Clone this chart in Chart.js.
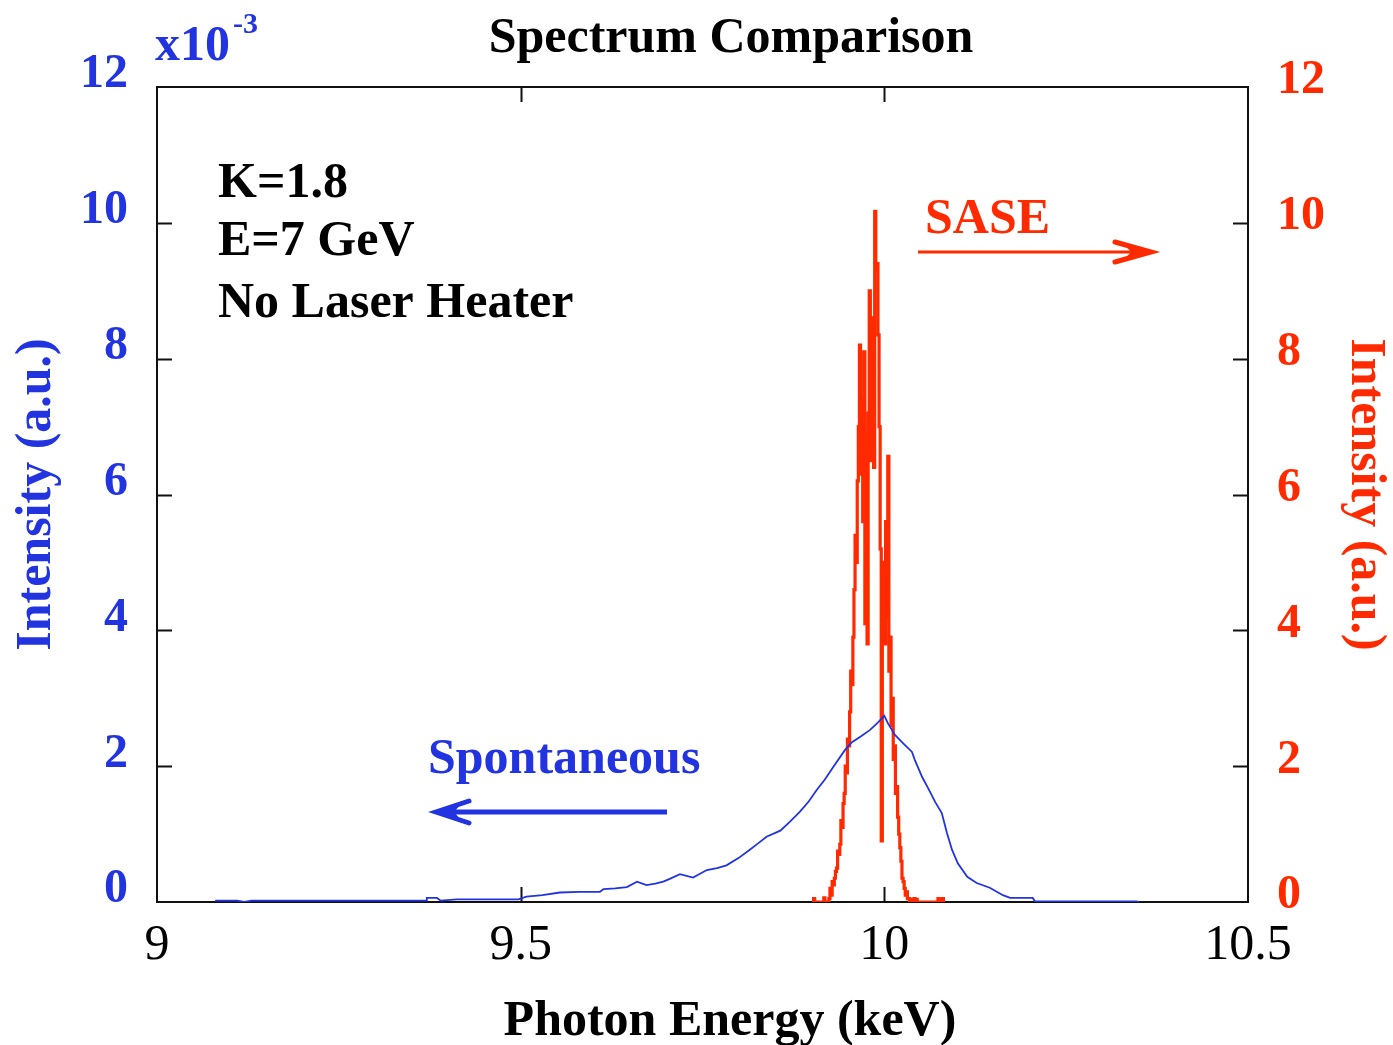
<!DOCTYPE html>
<html>
<head>
<meta charset="utf-8">
<script src="https://cdn.jsdelivr.net/npm/chart.js@4/dist/chart.umd.min.js"></script>
<style>
  html, body { margin: 0; padding: 0; background: #ffffff; }
  #wrap { width: 1393px; height: 1045px; }
</style>
</head>
<body>
<div id="wrap"><canvas id="c" width="1393" height="1045"></canvas></div>
<script>
// ---------- DATA ----------
// Spontaneous spectrum (left axis, units of 1e-3)
const spontEnergy = [9.08, 9.11, 9.12, 9.13, 9.20, 9.30, 9.37, 9.371, 9.385, 9.39, 9.412, 9.45, 9.497, 9.508, 9.53, 9.554, 9.58, 9.609, 9.614, 9.63, 9.646, 9.660, 9.673, 9.685, 9.696, 9.705, 9.719, 9.737, 9.756, 9.770, 9.783, 9.800, 9.815, 9.826, 9.838, 9.857, 9.870, 9.884, 9.896, 9.907, 9.918, 9.930, 9.946, 9.955, 9.968, 9.980, 9.990, 10.000, 10.005, 10.0146, 10.0256, 10.038, 10.042, 10.052, 10.060, 10.070, 10.079, 10.086, 10.093, 10.101, 10.114, 10.127, 10.145, 10.163, 10.173, 10.204, 10.207, 10.346, 10.35];
const spontIntensity = [0.02, 0.02, 0.0, 0.02, 0.02, 0.02, 0.02, 0.06, 0.06, 0.02, 0.04, 0.04, 0.04, 0.08, 0.10, 0.14, 0.15, 0.15, 0.19, 0.20, 0.22, 0.30, 0.25, 0.27, 0.30, 0.34, 0.41, 0.36, 0.47, 0.50, 0.54, 0.65, 0.77, 0.86, 0.96, 1.05, 1.18, 1.33, 1.48, 1.65, 1.80, 1.99, 2.24, 2.35, 2.44, 2.53, 2.63, 2.74, 2.63, 2.46, 2.34, 2.21, 2.09, 1.84, 1.68, 1.47, 1.31, 1.02, 0.77, 0.57, 0.37, 0.28, 0.21, 0.10, 0.06, 0.06, 0.01, 0.01, 0.0];

// SASE spectrum (right axis)
const saseEnergy = [9.902, 9.9035, 9.905, 9.916, 9.9175, 9.919, 9.9230, 9.9245, 9.9260, 9.9275, 9.9290, 9.9305, 9.9320, 9.9335, 9.9350, 9.9365, 9.9380, 9.9395, 9.9410, 9.9425, 9.9440, 9.9455, 9.9470, 9.9485, 9.9500, 9.9515, 9.9530, 9.9545, 9.9560, 9.9575, 9.9590, 9.9605, 9.9620, 9.9635, 9.9650, 9.9665, 9.9680, 9.9695, 9.9710, 9.9725, 9.9740, 9.9755, 9.9770, 9.9785, 9.9800, 9.9815, 9.9830, 9.9845, 9.9860, 9.9875, 9.9890, 9.9905, 9.9920, 9.9935, 9.9950, 9.9965, 9.9980, 9.9995, 10.0010, 10.0025, 10.0040, 10.0055, 10.0070, 10.0085, 10.0100, 10.0115, 10.0130, 10.0145, 10.0160, 10.0175, 10.0190, 10.0205, 10.0220, 10.0235, 10.0250, 10.0265, 10.0280, 10.0295, 10.0310, 10.0325, 10.0340, 10.0355, 10.0370, 10.0385, 10.040, 10.0415, 10.043, 10.0445, 10.046, 10.073, 10.0745, 10.076, 10.0775, 10.079, 10.0805, 10.082];
const saseIntensity = [0, 0.05, 0, 0, 0.06, 0, 0, 0.05, 0.2, 0.1, 0.3, 0.25, 0.35, 0.45, 0.5, 0.75, 0.7, 0.85, 1.2, 1.1, 1.45, 1.6, 2.0, 1.9, 2.4, 2.3, 2.8, 3.4, 3.2, 3.9, 4.6, 5.4, 5.0, 6.2, 7.0, 8.2, 6.3, 7.4, 5.6, 8.1, 4.1, 6.9, 3.8, 7.2, 9.0, 6.5, 7.8, 8.6, 6.4, 10.17, 9.3, 9.4, 8.35, 7.0, 5.2, 0.9, 5.0, 4.6, 3.8, 5.6, 4.2, 6.56, 3.4, 3.9, 2.6, 3.0, 2.1, 2.3, 1.6, 1.7, 1.25, 1.0, 0.8, 0.6, 0.35, 0.3, 0.2, 0.1, 0.15, 0.05, 0.05, 0, 0, 0.04, 0, 0.05, 0, 0.04, 0, 0, 0.05, 0, 0.04, 0, 0.05, 0];

// Axis tick settings
const xTickRange = [9, 10.5];
const xTickStep = 0.5;
const yTickRange = [0, 12];
const yTickStep = 2;

// Text labels
const chartTitle = 'Spectrum Comparison';
const xAxisTitle = 'Photon Energy (keV)';
const yAxisTitle = 'Intensity (a.u.)';
const infoLines = ['K=1.8', 'E=7 GeV', 'No Laser Heater'];
const saseLabel = 'SASE';
const spontLabel = 'Spontaneous';

// ---------- STYLE ----------
const BLUE = '#2233e0';
const RED = '#ff2a00';
const SERIF = '"Liberation Serif", "Times New Roman", Times, serif';

const spontPoints = spontEnergy.map((e, i) => ({x: e, y: spontIntensity[i]}));
const sasePoints = saseEnergy.map((e, i) => ({x: e, y: saseIntensity[i]}));

function arrow(ctx, x1, x2, y, color, w, headLen, headHalf) {
  ctx.save();
  ctx.strokeStyle = color; ctx.fillStyle = color; ctx.lineWidth = w; ctx.lineCap = 'butt';
  const dir = Math.sign(x2 - x1);
  ctx.beginPath(); ctx.moveTo(x1, y); ctx.lineTo(x2 - dir * 6, y); ctx.stroke();
  ctx.lineWidth = 5; ctx.lineCap = 'round';
  ctx.beginPath();
  ctx.moveTo(x2 - dir * headLen, y - headHalf);
  ctx.lineTo(x2, y);
  ctx.lineTo(x2 - dir * headLen, y + headHalf);
  ctx.stroke();
  ctx.beginPath();
  ctx.moveTo(x2, y);
  ctx.lineTo(x2 - dir * headLen * 0.7, y - headHalf * 0.55);
  ctx.lineTo(x2 - dir * headLen * 0.55, y);
  ctx.lineTo(x2 - dir * headLen * 0.7, y + headHalf * 0.55);
  ctx.closePath();
  ctx.fill();
  ctx.restore();
}

const framePlugin = {
  id: 'frameTicks',
  beforeDatasetsDraw(chart) {
    const {ctx, chartArea: a, scales} = chart;
    ctx.save();
    ctx.strokeStyle = '#111';
    ctx.lineWidth = 2;
    const L = 15;
    ctx.beginPath();
    scales.x.ticks.forEach(t => {
      if (t.value <= xTickRange[0] || t.value >= xTickRange[1]) return;
      const px = Math.round(scales.x.getPixelForValue(t.value)) + 0.5;
      ctx.moveTo(px, a.bottom); ctx.lineTo(px, a.bottom - L);
      ctx.moveTo(px, a.top); ctx.lineTo(px, a.top + L);
    });
    scales.y.ticks.forEach(t => {
      if (t.value <= yTickRange[0] || t.value >= yTickRange[1]) return;
      const py = Math.round(scales.y.getPixelForValue(t.value)) + 0.5;
      ctx.moveTo(a.left, py); ctx.lineTo(a.left + L, py);
    });
    scales.y2.ticks.forEach(t => {
      if (t.value <= yTickRange[0] || t.value >= yTickRange[1]) return;
      const py = Math.round(scales.y2.getPixelForValue(t.value)) + 0.5;
      ctx.moveTo(a.right, py); ctx.lineTo(a.right - L, py);
    });
    ctx.stroke();
    ctx.strokeRect(a.left, a.top, a.right - a.left, a.bottom - a.top);
    ctx.restore();
  },
  afterDraw(chart) {
    const {ctx} = chart;
    ctx.save();
    ctx.textBaseline = 'alphabetic';
    ctx.fillStyle = '#000';
    ctx.font = 'bold 50px ' + SERIF;
    ctx.textAlign = 'center';
    ctx.fillText(chartTitle, 731, 52);
    ctx.fillText(xAxisTitle, 730, 1035);
    ctx.textAlign = 'left';
    ctx.fillText(infoLines[0], 218, 197);
    ctx.fillText(infoLines[1], 218, 255);
    ctx.fillText(infoLines[2], 218, 317);
    ctx.fillStyle = BLUE;
    ctx.fillText('x10', 155, 60);
    ctx.font = 'bold 30px ' + SERIF;
    ctx.fillText('-3', 233, 33);
    ctx.font = 'bold 50px ' + SERIF;
    ctx.fillStyle = RED;
    ctx.fillText(saseLabel, 925, 233);
    arrow(ctx, 918, 1151, 252, RED, 3, 36, 10);
    ctx.fillStyle = BLUE;
    ctx.fillText(spontLabel, 428, 773);
    arrow(ctx, 667, 436, 812, BLUE, 5, 33, 11);
    ctx.restore();
  }
};

new Chart(document.getElementById('c'), {
  type: 'line',
  data: {
    datasets: [
      {
        label: 'Spontaneous',
        data: spontPoints,
        yAxisID: 'y',
        borderColor: BLUE,
        borderWidth: 1.8,
        pointRadius: 0,
        tension: 0,
        order: 0
      },
      {
        label: 'SASE',
        data: sasePoints,
        yAxisID: 'y2',
        borderColor: RED,
        borderWidth: 3.2,
        pointRadius: 0,
        stepped: 'middle',
        order: 1
      }
    ]
  },
  options: {
    responsive: false,
    animation: false,
    devicePixelRatio: 1,
    layout: { padding: { top: 87, left: 0, right: 0, bottom: 0 } },
    plugins: { legend: { display: false }, tooltip: { enabled: false }, title: { display: false } },
    scales: {
      x: {
        type: 'linear',
        min: xTickRange[0], max: xTickRange[1],
        grid: { display: false, drawTicks: false },
        border: { display: false },
        ticks: { stepSize: xTickStep, color: '#000', padding: 14, font: { family: SERIF, size: 50 }, callback: v => String(v) },
        afterFit(s) { s.height = 143; }
      },
      y: {
        position: 'left',
        min: yTickRange[0], max: yTickRange[1],
        grid: { display: false, drawTicks: false },
        border: { display: false },
        ticks: { stepSize: yTickStep, color: BLUE, padding: 29, labelOffset: -12, font: { family: SERIF, size: 48, weight: 'bold' } },
        title: { display: true, text: yAxisTitle, color: BLUE, padding: { top: 12, bottom: 0 }, font: { family: SERIF, size: 50, weight: 'bold', lineHeight: 1 } },
        afterFit(s) { s.width = 157; }
      },
      y2: {
        position: 'right',
        min: yTickRange[0], max: yTickRange[1],
        grid: { display: false, drawTicks: false },
        border: { display: false },
        ticks: { stepSize: yTickStep, color: RED, padding: 29, labelOffset: -6, font: { family: SERIF, size: 48, weight: 'bold' } },
        title: { display: true, text: yAxisTitle, color: RED, padding: { top: 3, bottom: 0 }, font: { family: SERIF, size: 50, weight: 'bold', lineHeight: 1 } },
        afterFit(s) { s.width = 145; }
      }
    }
  },
  plugins: [framePlugin]
});
</script>
</body>
</html>
